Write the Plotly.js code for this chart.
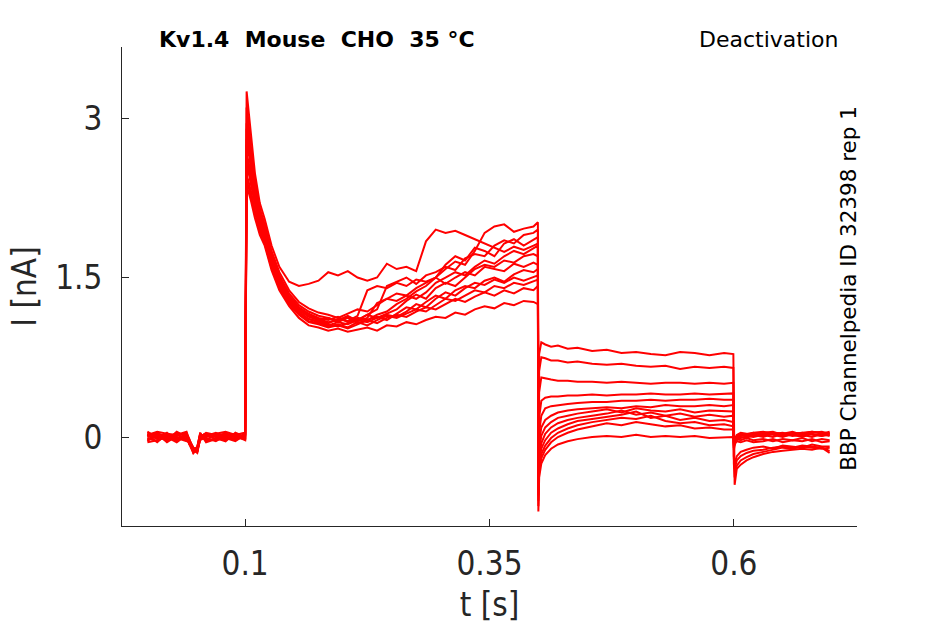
<!DOCTYPE html>
<html>
<head>
<meta charset="utf-8">
<script src="https://cdn.plot.ly/plotly-3.0.1.min.js"></script>
<style>
  body { margin: 0; background: #fff; }
  #trace { width: 945px; height: 624px; }
</style>
</head>
<body>
<div id="trace"></div>
<script>
// sample times [s]: holding, step, deactivation step, return to holding
var t = [
  0, 0.01, 0.02, 0.03, 0.04, 0.043, 0.047, 0.051, 0.054, 0.06, 0.07, 0.08, 0.09, 0.0995,
  0.1, 0.1015, 0.103, 0.106, 0.11, 0.115, 0.12, 0.127, 0.135, 0.145, 0.155, 0.165,
  0.175, 0.185, 0.195, 0.205, 0.215, 0.225, 0.235, 0.245, 0.255, 0.265, 0.275, 0.285,
  0.295, 0.305, 0.315, 0.325, 0.335, 0.345, 0.355, 0.365, 0.375, 0.385, 0.395, 0.3995,
  0.4, 0.4008, 0.403, 0.407, 0.413, 0.42, 0.43, 0.44, 0.455, 0.47, 0.485, 0.5, 0.515,
  0.53, 0.545, 0.56, 0.575, 0.59, 0.5995,
  0.6, 0.6008, 0.603, 0.607, 0.613, 0.62, 0.63, 0.64, 0.65, 0.66, 0.67, 0.68, 0.69, 0.698
];

// current per sweep [nA]
var sweep01 = [
  0.03, -0.02, 0.04, -0.03, 0.02, -0.06, -0.14, -0.11, 0.01, 0.03, -0.02, 0.04, -0.01, 0.02,
  0.02, 3.25, 3.12, 2.8, 2.48, 2.2, 2.05, 1.8, 1.6, 1.46, 1.42, 1.44,
  1.47, 1.55, 1.52, 1.56, 1.5, 1.47, 1.5, 1.63, 1.58, 1.6, 1.56, 1.84,
  1.95, 1.92, 1.94, 1.9, 1.86, 1.82, 1.78, 1.74, 1.79, 1.76, 1.8, 1.82,
  -0.1, 0.78, 0.89, 0.87, 0.85, 0.86, 0.83, 0.84, 0.81, 0.82, 0.79, 0.8, 0.78,
  0.77, 0.8, 0.79, 0.77, 0.79, 0.78,
  -0.3, -0.45, -0.3, -0.26, -0.22, -0.19, -0.16, -0.14, -0.13, -0.12, -0.11, -0.12, -0.1, -0.13
];
var sweep02 = [
  -0.03, 0.02, -0.04, 0.03, -0.02, -0.04, -0.12, -0.13, 0.02, -0.03, 0.03, -0.02, 0.03, -0.01,
  -0.01, 3.1, 3.0, 2.72, 2.42, 2.15, 2.0, 1.75, 1.55, 1.38, 1.27, 1.21,
  1.17, 1.15, 1.12, 1.16, 1.2, 1.18, 1.24, 1.3, 1.35, 1.33, 1.4, 1.45,
  1.5, 1.58, 1.65, 1.62, 1.75, 1.92, 1.98, 2.0, 1.93, 1.96, 1.98, 2.02,
  -0.15, 0.62, 0.75, 0.74, 0.72, 0.72, 0.7, 0.71, 0.69, 0.68, 0.69, 0.67, 0.66,
  0.67, 0.64, 0.66, 0.65, 0.66, 0.65,
  -0.25, -0.38, -0.27, -0.22, -0.19, -0.16, -0.14, -0.12, -0.1, -0.11, -0.09, -0.1, -0.11, -0.1
];
var sweep03 = [
  0.01, 0.04, -0.01, 0.02, 0.05, -0.03, -0.1, -0.14, -0.02, 0.02, 0.01, -0.03, 0.02, 0.04,
  0.03, 2.95, 2.9, 2.66, 2.38, 2.12, 1.97, 1.72, 1.52, 1.35, 1.24, 1.18,
  1.14, 1.12, 1.09, 1.13, 1.1, 1.15, 1.2, 1.42, 1.46, 1.5, 1.44, 1.52,
  1.55, 1.6, 1.57, 1.68, 1.72, 1.7, 1.8, 1.85, 1.82, 1.9, 1.92, 1.95,
  -0.2, 0.42, 0.56, 0.55, 0.54, 0.53, 0.53, 0.52, 0.52, 0.51, 0.52, 0.51, 0.5,
  0.51, 0.51, 0.5, 0.51, 0.5, 0.51,
  -0.2, -0.3, -0.22, -0.18, -0.15, -0.13, -0.12, -0.1, -0.09, -0.1, -0.08, -0.09, -0.1, -0.15
];
var sweep04 = [
  -0.01, -0.04, 0.02, -0.02, -0.01, -0.07, -0.15, -0.1, 0.03, -0.01, -0.04, 0.01, -0.03, 0.01,
  0.0, 2.9, 2.83, 2.62, 2.35, 2.1, 1.95, 1.7, 1.5, 1.33, 1.22, 1.16,
  1.12, 1.1, 1.13, 1.08, 1.12, 1.1, 1.15, 1.18, 1.25, 1.3, 1.37, 1.42,
  1.5, 1.62, 1.7, 1.66, 1.78, 1.75, 1.7, 1.82, 1.86, 1.8, 1.85, 1.88,
  -0.3, 0.18, 0.34, 0.37, 0.38, 0.38, 0.39, 0.39, 0.4, 0.39, 0.4, 0.4, 0.41,
  0.4, 0.4, 0.41, 0.4, 0.41, 0.41,
  -0.18, -0.25, -0.18, -0.14, -0.12, -0.1, -0.09, -0.11, -0.08, -0.09, -0.1, -0.07, -0.09, -0.09
];
var sweep05 = [
  0.04, 0.01, -0.03, 0.05, 0.0, -0.05, -0.11, -0.12, 0.0, 0.04, 0.02, 0.03, 0.0, -0.02,
  -0.02, 2.8, 2.76, 2.57, 2.32, 2.07, 1.93, 1.68, 1.48, 1.31, 1.21, 1.15,
  1.11, 1.08, 1.1, 1.14, 1.09, 1.12, 1.26, 1.3, 1.28, 1.33, 1.3, 1.36,
  1.45, 1.5, 1.55, 1.52, 1.6, 1.66, 1.63, 1.7, 1.75, 1.72, 1.78, 1.8,
  -0.35, 0.04, 0.2, 0.27, 0.29, 0.3, 0.31, 0.32, 0.33, 0.33, 0.34, 0.34, 0.35,
  0.34, 0.35, 0.35, 0.36, 0.35, 0.35,
  -0.12, -0.08, -0.02, 0.0, -0.01, 0.02, 0.0, 0.03, 0.01, 0.02, 0.0, 0.03, 0.01, 0.02
];
var sweep06 = [
  -0.04, 0.03, 0.01, -0.04, 0.03, -0.02, -0.13, -0.09, 0.03, -0.04, -0.01, -0.04, 0.04, 0.0,
  0.0, 2.75, 2.71, 2.52, 2.28, 2.05, 1.91, 1.66, 1.46, 1.3, 1.2, 1.13,
  1.1, 1.12, 1.08, 1.06, 1.1, 1.15, 1.12, 1.16, 1.2, 1.28, 1.34, 1.3,
  1.4, 1.45, 1.42, 1.5, 1.58, 1.62, 1.6, 1.66, 1.64, 1.7, 1.72, 1.7,
  -0.4, -0.06, 0.09, 0.16, 0.2, 0.23, 0.25, 0.26, 0.27, 0.28, 0.27, 0.29, 0.28,
  0.3, 0.29, 0.29, 0.3, 0.29, 0.3,
  -0.1, -0.06, -0.03, -0.01, 0.01, 0.0, 0.02, 0.0, 0.03, 0.01, 0.02, 0.0, 0.03, 0.01
];
var sweep07 = [
  0.02, -0.05, 0.03, 0.0, -0.03, -0.06, -0.12, -0.15, -0.01, 0.01, 0.04, 0.0, -0.02, 0.03,
  0.03, 2.65, 2.61, 2.46, 2.24, 2.03, 1.9, 1.65, 1.46, 1.3, 1.19, 1.14,
  1.1, 1.07, 1.11, 1.09, 1.14, 1.38, 1.42, 1.4, 1.45, 1.42, 1.48, 1.46,
  1.5, 1.44, 1.5, 1.55, 1.52, 1.6, 1.58, 1.56, 1.63, 1.6, 1.64, 1.62,
  -0.45, -0.13, 0.01, 0.09, 0.14, 0.18, 0.2, 0.22, 0.24, 0.26, 0.23, 0.27, 0.25,
  0.24, 0.26, 0.23, 0.25, 0.24, 0.24,
  -0.1, -0.05, -0.01, 0.01, 0.02, 0.01, 0.03, 0.02, 0.0, 0.03, 0.04, 0.02, 0.01, 0.04
];
var sweep08 = [
  -0.02, 0.0, -0.02, 0.04, 0.01, -0.04, -0.14, -0.11, 0.02, -0.02, -0.03, 0.02, 0.01, -0.03,
  -0.03, 2.6, 2.56, 2.42, 2.21, 2.0, 1.88, 1.63, 1.44, 1.28, 1.18, 1.11,
  1.08, 1.05, 1.08, 1.12, 1.07, 1.1, 1.13, 1.1, 1.16, 1.22, 1.2, 1.27,
  1.33, 1.3, 1.38, 1.42, 1.4, 1.47, 1.5, 1.46, 1.53, 1.57, 1.55, 1.58,
  -0.5, -0.19, -0.06, 0.03, 0.09, 0.13, 0.16, 0.18, 0.2, 0.22, 0.25, 0.21, 0.23,
  0.2, 0.22, 0.19, 0.21, 0.19, 0.2,
  -0.08, -0.04, 0.0, 0.02, 0.03, 0.04, 0.02, 0.04, 0.03, 0.05, 0.02, 0.04, 0.05, 0.03
];
var sweep09 = [
  0.05, -0.01, 0.02, -0.01, -0.04, -0.03, -0.1, -0.13, 0.01, 0.03, 0.0, -0.01, -0.04, 0.02,
  0.01, 2.55, 2.51, 2.37, 2.18, 1.98, 1.86, 1.62, 1.43, 1.28, 1.17, 1.11,
  1.09, 1.06, 1.04, 1.07, 1.1, 1.08, 1.12, 1.15, 1.13, 1.18, 1.25, 1.22,
  1.3, 1.36, 1.33, 1.4, 1.45, 1.43, 1.48, 1.45, 1.5, 1.47, 1.5, 1.52,
  -0.55, -0.24, -0.11, -0.03, 0.04, 0.08, 0.12, 0.15, 0.17, 0.19, 0.21, 0.24, 0.18,
  0.2, 0.16, 0.18, 0.15, 0.16, 0.14,
  -0.08, -0.03, 0.01, 0.03, 0.02, 0.04, 0.05, 0.03, 0.04, 0.02, 0.04, 0.05, 0.03, 0.05
];
var sweep10 = [
  0.0, 0.03, -0.05, 0.01, 0.04, -0.05, -0.15, -0.12, -0.03, 0.0, 0.03, 0.05, 0.02, -0.01,
  -0.01, 2.45, 2.42, 2.31, 2.13, 1.95, 1.84, 1.6, 1.41, 1.26, 1.16, 1.09,
  1.07, 1.04, 1.06, 1.03, 1.08, 1.05, 1.1, 1.14, 1.12, 1.16, 1.2, 1.18,
  1.24, 1.3, 1.28, 1.33, 1.38, 1.36, 1.42, 1.4, 1.45, 1.43, 1.46, 1.48,
  -0.6, -0.28, -0.16, -0.08, -0.01, 0.04, 0.08, 0.11, 0.14, 0.16, 0.18, 0.17, 0.2,
  0.15, 0.13, 0.14, 0.11, 0.12, 0.1,
  -0.06, -0.02, 0.02, 0.04, 0.03, 0.02, 0.04, 0.05, 0.02, 0.04, 0.03, 0.05, 0.04, 0.02
];
var sweep11 = [
  -0.05, -0.03, 0.0, -0.05, 0.02, -0.07, -0.11, -0.1, 0.04, -0.05, -0.02, -0.02, -0.01, 0.01,
  0.02, 2.4, 2.37, 2.26, 2.1, 1.93, 1.82, 1.59, 1.4, 1.25, 1.15, 1.08,
  1.06, 1.03, 1.05, 1.02, 1.06, 1.1, 1.07, 1.12, 1.15, 1.13, 1.18, 1.22,
  1.2, 1.25, 1.3, 1.27, 1.32, 1.36, 1.33, 1.38, 1.35, 1.4, 1.38, 1.42,
  -0.65, -0.32, -0.2, -0.12, -0.05, 0.0, 0.04, 0.07, 0.1, 0.13, 0.11, 0.14, 0.12,
  0.1, 0.11, 0.08, 0.09, 0.07, 0.07,
  -0.06, -0.04, -0.02, -0.03, -0.01, -0.03, -0.02, -0.04, -0.02, -0.03, -0.01, -0.04, -0.02, -0.03
];
var sweep12 = [
  0.02, 0.05, 0.03, 0.02, -0.02, -0.04, -0.13, -0.14, 0.0, 0.02, 0.01, 0.01, 0.03, -0.02,
  -0.02, 2.35, 2.32, 2.22, 2.06, 1.9, 1.8, 1.57, 1.38, 1.23, 1.12, 1.05,
  1.03, 1.0, 1.02, 0.99, 1.01, 1.03, 1.0, 1.05, 1.04, 1.08, 1.06, 1.1,
  1.13, 1.12, 1.17, 1.15, 1.2, 1.23, 1.21, 1.26, 1.24, 1.28, 1.27, 1.25,
  -0.7, -0.38, -0.25, -0.17, -0.11, -0.07, -0.04, -0.02, 0.0, 0.01, 0.0, 0.02, 0.0,
  0.01, 0.0, 0.01, -0.01, 0.0, 0.0,
  -0.05, -0.06, -0.04, -0.05, -0.03, -0.05, -0.04, -0.02, -0.05, -0.03, -0.04, -0.02, -0.05, -0.04
];

var sweeps = [sweep01, sweep02, sweep03, sweep04, sweep05, sweep06,
              sweep07, sweep08, sweep09, sweep10, sweep11, sweep12];

var xTicks = [0.1, 0.35, 0.6];
var xTickText = ['0.1', '0.35', '0.6'];
var yTicks = [0, 1.5, 3];
var yTickText = ['0', '1.5', '3'];

var axisCol = '#262626';
var condensed = '"DejaVu Sans Condensed", "DejaVu Sans", sans-serif';

var data = sweeps.map(function (s) {
  return {
    type: 'scatter', mode: 'lines',
    x: t, y: s,
    line: {color: '#ff0000', width: 2},
    hoverinfo: 'skip', showlegend: false
  };
});

var layout = {
  width: 945, height: 624,
  margin: {l: 122, r: 88, t: 47, b: 98},
  paper_bgcolor: '#fff', plot_bgcolor: '#fff',
  showlegend: false,
  xaxis: {
    range: [-0.026, 0.726], fixedrange: true,
    tickvals: xTicks, ticktext: xTickText,
    ticks: 'inside', ticklen: 7, tickcolor: axisCol, tickwidth: 1,
    showline: true, linecolor: axisCol, linewidth: 1,
    showgrid: false, zeroline: false, mirror: false,
    ticklabelstandoff: 8,
    tickfont: {family: condensed, size: 33, color: axisCol},
    title: {text: 't [s]', font: {family: condensed, size: 33, color: axisCol}, standoff: 12}
  },
  yaxis: {
    range: [-0.837, 3.668], fixedrange: true,
    tickvals: yTicks, ticktext: yTickText,
    ticks: 'inside', ticklen: 7, tickcolor: axisCol, tickwidth: 1,
    showline: true, linecolor: axisCol, linewidth: 1,
    showgrid: false, zeroline: false, mirror: false,
    ticklabelstandoff: 12,
    tickfont: {family: condensed, size: 33, color: axisCol},
    title: {text: 'I [nA]', font: {family: condensed, size: 33, color: axisCol}, standoff: 8}
  },
  annotations: [
    {xref: 'paper', yref: 'paper', x: 0.047, y: 1.0167, xanchor: 'left', yanchor: 'middle',
     text: '<b>Kv1.4\u00a0\u00a0Mouse\u00a0\u00a0CHO\u00a0\u00a035 °C</b>', showarrow: false,
     font: {family: 'DejaVu Sans', size: 22, color: '#000'}},
    {xref: 'paper', yref: 'paper', x: 0.9769, y: 1.0167, xanchor: 'right', yanchor: 'middle',
     text: 'Deactivation', showarrow: false,
     font: {family: 'DejaVu Sans', size: 22, color: '#000'}},
    {xref: 'paper', yref: 'paper', x: 0.989, y: 0.497, xanchor: 'center', yanchor: 'middle',
     text: 'BBP Channelpedia ID 32398 rep 1', textangle: -90, showarrow: false,
     font: {family: 'DejaVu Sans', size: 21.5, color: '#000'}}
  ]
};

Plotly.newPlot('trace', data, layout, {staticPlot: true, displayModeBar: false});
</script>
</body>
</html>
